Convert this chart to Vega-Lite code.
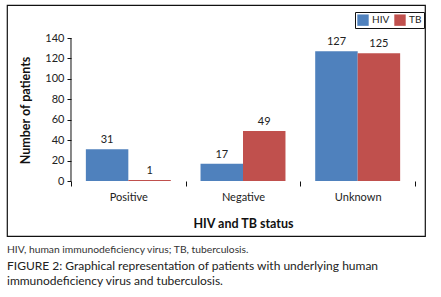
{
  "$schema": "https://vega.github.io/schema/vega-lite/v6.json",
  "width": 418,
  "height": 231,
  "autosize": {"type": "none"},
  "padding": {"left": 7, "top": 5, "right": 16, "bottom": 61},
  "background": "white",
  "config": {
    "font": "Lato",
    "view": {"stroke": "#111111", "strokeWidth": 1.2}
  },
  "title": {
    "text": "HIV, human immunodeficiency virus; TB, tuberculosis.",
    "subtitle": ["FIGURE 2: Graphical representation of patients with underlying human", "immunodeficiency virus and tuberculosis."],
    "orient": "bottom",
    "anchor": "start",
    "frame": "group",
    "offset": 9,
    "fontSize": 10.3,
    "fontWeight": "normal",
    "color": "#333333",
    "subtitleFontSize": 12,
    "subtitleColor": "#222222",
    "subtitlePadding": 6,
    "subtitleLineHeight": 14.5
  },
  "data": {
    "values": [
      {"status": "Positive", "series": "HIV", "count": 31},
      {"status": "Positive", "series": "TB", "count": 1},
      {"status": "Negative", "series": "HIV", "count": 17},
      {"status": "Negative", "series": "TB", "count": 49},
      {"status": "Unknown", "series": "HIV", "count": 127},
      {"status": "Unknown", "series": "TB", "count": 125}
    ]
  },
  "encoding": {
    "x": {
      "field": "status",
      "type": "nominal",
      "sort": ["Positive", "Negative", "Unknown"],
      "scale": {"paddingInner": 0, "paddingOuter": 0.3226, "align": 0.865},
      "axis": {
        "title": "HIV and TB status",
        "offset": -55,
        "domain": false,
        "labelAngle": 0,
        "labelFontSize": 11,
        "labelColor": "#222222",
        "labelPadding": 5,
        "tickBand": "extent",
        "tickSize": 5,
        "tickColor": "#111111",
        "titleFontSize": 12.5,
        "titleFontWeight": "bold",
        "titleColor": "#111111",
        "titlePadding": 15,
        "titleX": 236
      }
    },
    "y": {
      "field": "count",
      "type": "quantitative",
      "stack": null,
      "scale": {"domain": [-53.8, 172.3], "nice": false, "zero": false},
      "axis": {
        "title": "Number of patients",
        "offset": -64,
        "domain": false,
        "grid": false,
        "values": [0, 20, 40, 60, 80, 100, 120, 140],
        "labelFontSize": 11,
        "labelColor": "#222222",
        "labelPadding": 3,
        "tickSize": 4,
        "tickColor": "#111111",
        "titleFontSize": 12.5,
        "titleFontWeight": "bold",
        "titleColor": "#111111",
        "titlePadding": 12,
        "titleY": 105
      }
    }
  },
  "layer": [
    {
      "mark": {"type": "bar"},
      "encoding": {
        "xOffset": {
          "field": "series",
          "type": "nominal",
          "sort": ["HIV", "TB"],
          "scale": {"paddingInner": 0, "paddingOuter": 0.35}
        },
        "color": {
          "field": "series",
          "type": "nominal",
          "sort": ["HIV", "TB"],
          "scale": {"domain": ["HIV", "TB"], "range": ["#4F81BD", "#C0504D"]},
          "legend": {
            "title": null,
            "orient": "none",
            "legendX": 348,
            "legendY": 7,
            "direction": "horizontal",
            "symbolType": "square",
            "symbolSize": 130,
            "symbolStrokeWidth": 0,
            "symbolOpacity": 1,
            "labelFontSize": 10,
            "labelColor": "#222222",
            "labelOffset": 3,
            "columnPadding": 4,
            "padding": 2,
            "strokeColor": "#111111",
            "fillColor": "white"
          }
        }
      }
    },
    {
      "mark": {"type": "text", "baseline": "bottom", "dy": -4, "fontSize": 11, "color": "#222222"},
      "encoding": {
        "xOffset": {
          "field": "series",
          "type": "nominal",
          "sort": ["HIV", "TB"],
          "scale": {"paddingInner": 0, "paddingOuter": 0.35}
        },
        "text": {"field": "count", "type": "quantitative"}
      }
    },
    {
      "transform": [{"filter": "datum.series == 'HIV' && datum.status == 'Positive'"}],
      "mark": {"type": "rule", "color": "#111111", "strokeWidth": 1},
      "encoding": {
        "x": {"field": "status", "type": "nominal", "bandPosition": 0},
        "y": {"datum": 0},
        "y2": {"datum": 140}
      }
    },
    {
      "data": {"values": [{}]},
      "mark": {"type": "rule", "color": "#111111", "strokeWidth": 1},
      "encoding": {
        "x": {"datum": "Positive", "bandPosition": 0},
        "x2": {"datum": "Unknown", "bandPosition": 1},
        "y": {"datum": 0}
      }
    }
  ]
}
